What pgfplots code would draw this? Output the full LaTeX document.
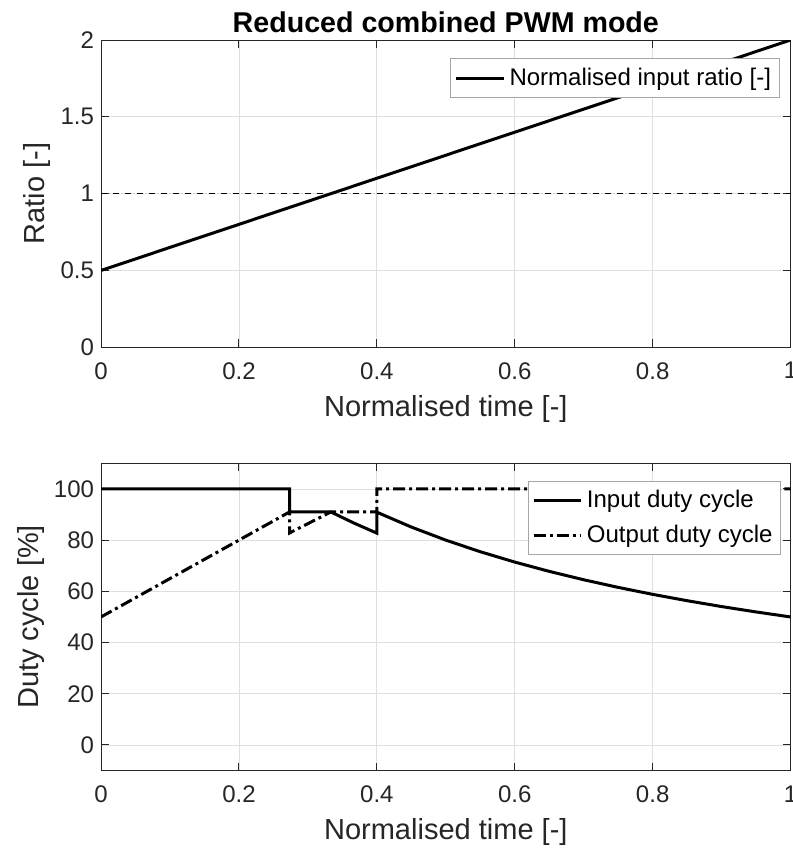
\documentclass[border=0pt]{standalone}
\usepackage{pgfplots}
\pgfplotsset{compat=1.18}
\usepackage{fontspec}
\setmainfont{Liberation Sans}
\definecolor{axgray}{gray}{0.15}
\definecolor{gridgray}{gray}{0.87}
\pgfplotsset{
  common/.style={
    scale only axis, width=344.5pt, height=153.5pt,
    xmin=0, xmax=1,
    xtick={0,0.2,0.4,0.6,0.8,1},
    xticklabels={0,0.2,0.4,0.6,0.8,1},
    grid=major, major grid style={gridgray, line width=0.4pt},
    axis line style={axgray, line width=0.5pt},
    tick style={axgray, line width=0.5pt},
    tick align=inside, tick pos=both, major tick length=4pt,
    /pgf/number format/assume math mode=true,
    ticklabel style={font=\fontsize{12}{14}\selectfont, text=axgray},
    xticklabel style={yshift=-4pt},
    label style={font=\fontsize{14.5}{16}\selectfont, text=axgray},
    xlabel style={yshift=-1pt},
    ylabel style={yshift=-2pt},
    xlabel={Normalised time [-]},
    legend style={draw=gray!70, line width=0.4pt, font=\fontsize{12}{14}\selectfont, inner xsep=2pt, inner ysep=2.5pt, row sep=3pt},
    legend cell align=left,
    legend image post style={xscale=1.4},
  }
}
\begin{document}
\begin{tikzpicture}
\begin{axis}[common, at={(0,0)}, anchor=south west,
  ymin=0, ymax=2, ytick={0,0.5,1,1.5,2},
  yticklabels={0,0.5,1,1.5,2},
  ylabel={Ratio [-]},
  title={\textbf{Reduced combined PWM mode}},
  title style={font=\fontsize{14.3}{16}\selectfont, yshift=-6pt},
  legend style={at={(0.984,0.94)}, anchor=north east},
]
\addplot[black, line width=1.5pt] coordinates {(0,0.5) (1,2)};
\addlegendentry{Normalised input ratio [-]}
\addplot[black, dashed, line width=0.5pt, forget plot] coordinates {(0,1) (1,1)};
\end{axis}
\begin{axis}[common, at={(0,-58pt)}, anchor=north west,
  ymin=-10, ymax=110, ytick={0,20,40,60,80,100},
  ylabel={Duty cycle [\%]},
  legend style={at={(0.986,0.942)}, anchor=north east},
]
\addplot[black, line width=1.5pt] coordinates {
(0,100) (0.2733,100) (0.2733,91) (0.3333,91) (0.3667,86.67) (0.4,82.73)
(0.4,90.91) (0.45,85.11) (0.5,80) (0.55,75.47) (0.6,71.43) (0.65,67.80)
(0.7,64.52) (0.75,61.54) (0.8,58.82) (0.85,56.34) (0.9,54.05) (0.95,51.95) (1,50)};
\addlegendentry{Input duty cycle}
\addplot[black, line width=1.5pt, dash pattern=on 6pt off 2pt on 1.5pt off 2pt] coordinates {
(0,50) (0.2733,91) (0.2733,82.8) (0.3333,91) (0.4,91) (0.4,100) (1,100)};
\addlegendentry{Output duty cycle}
\end{axis}
\pgfresetboundingbox
\path (-50.5pt,-251.2pt) rectangle (345.5pt,173.5pt);
\end{tikzpicture}
\end{document}
